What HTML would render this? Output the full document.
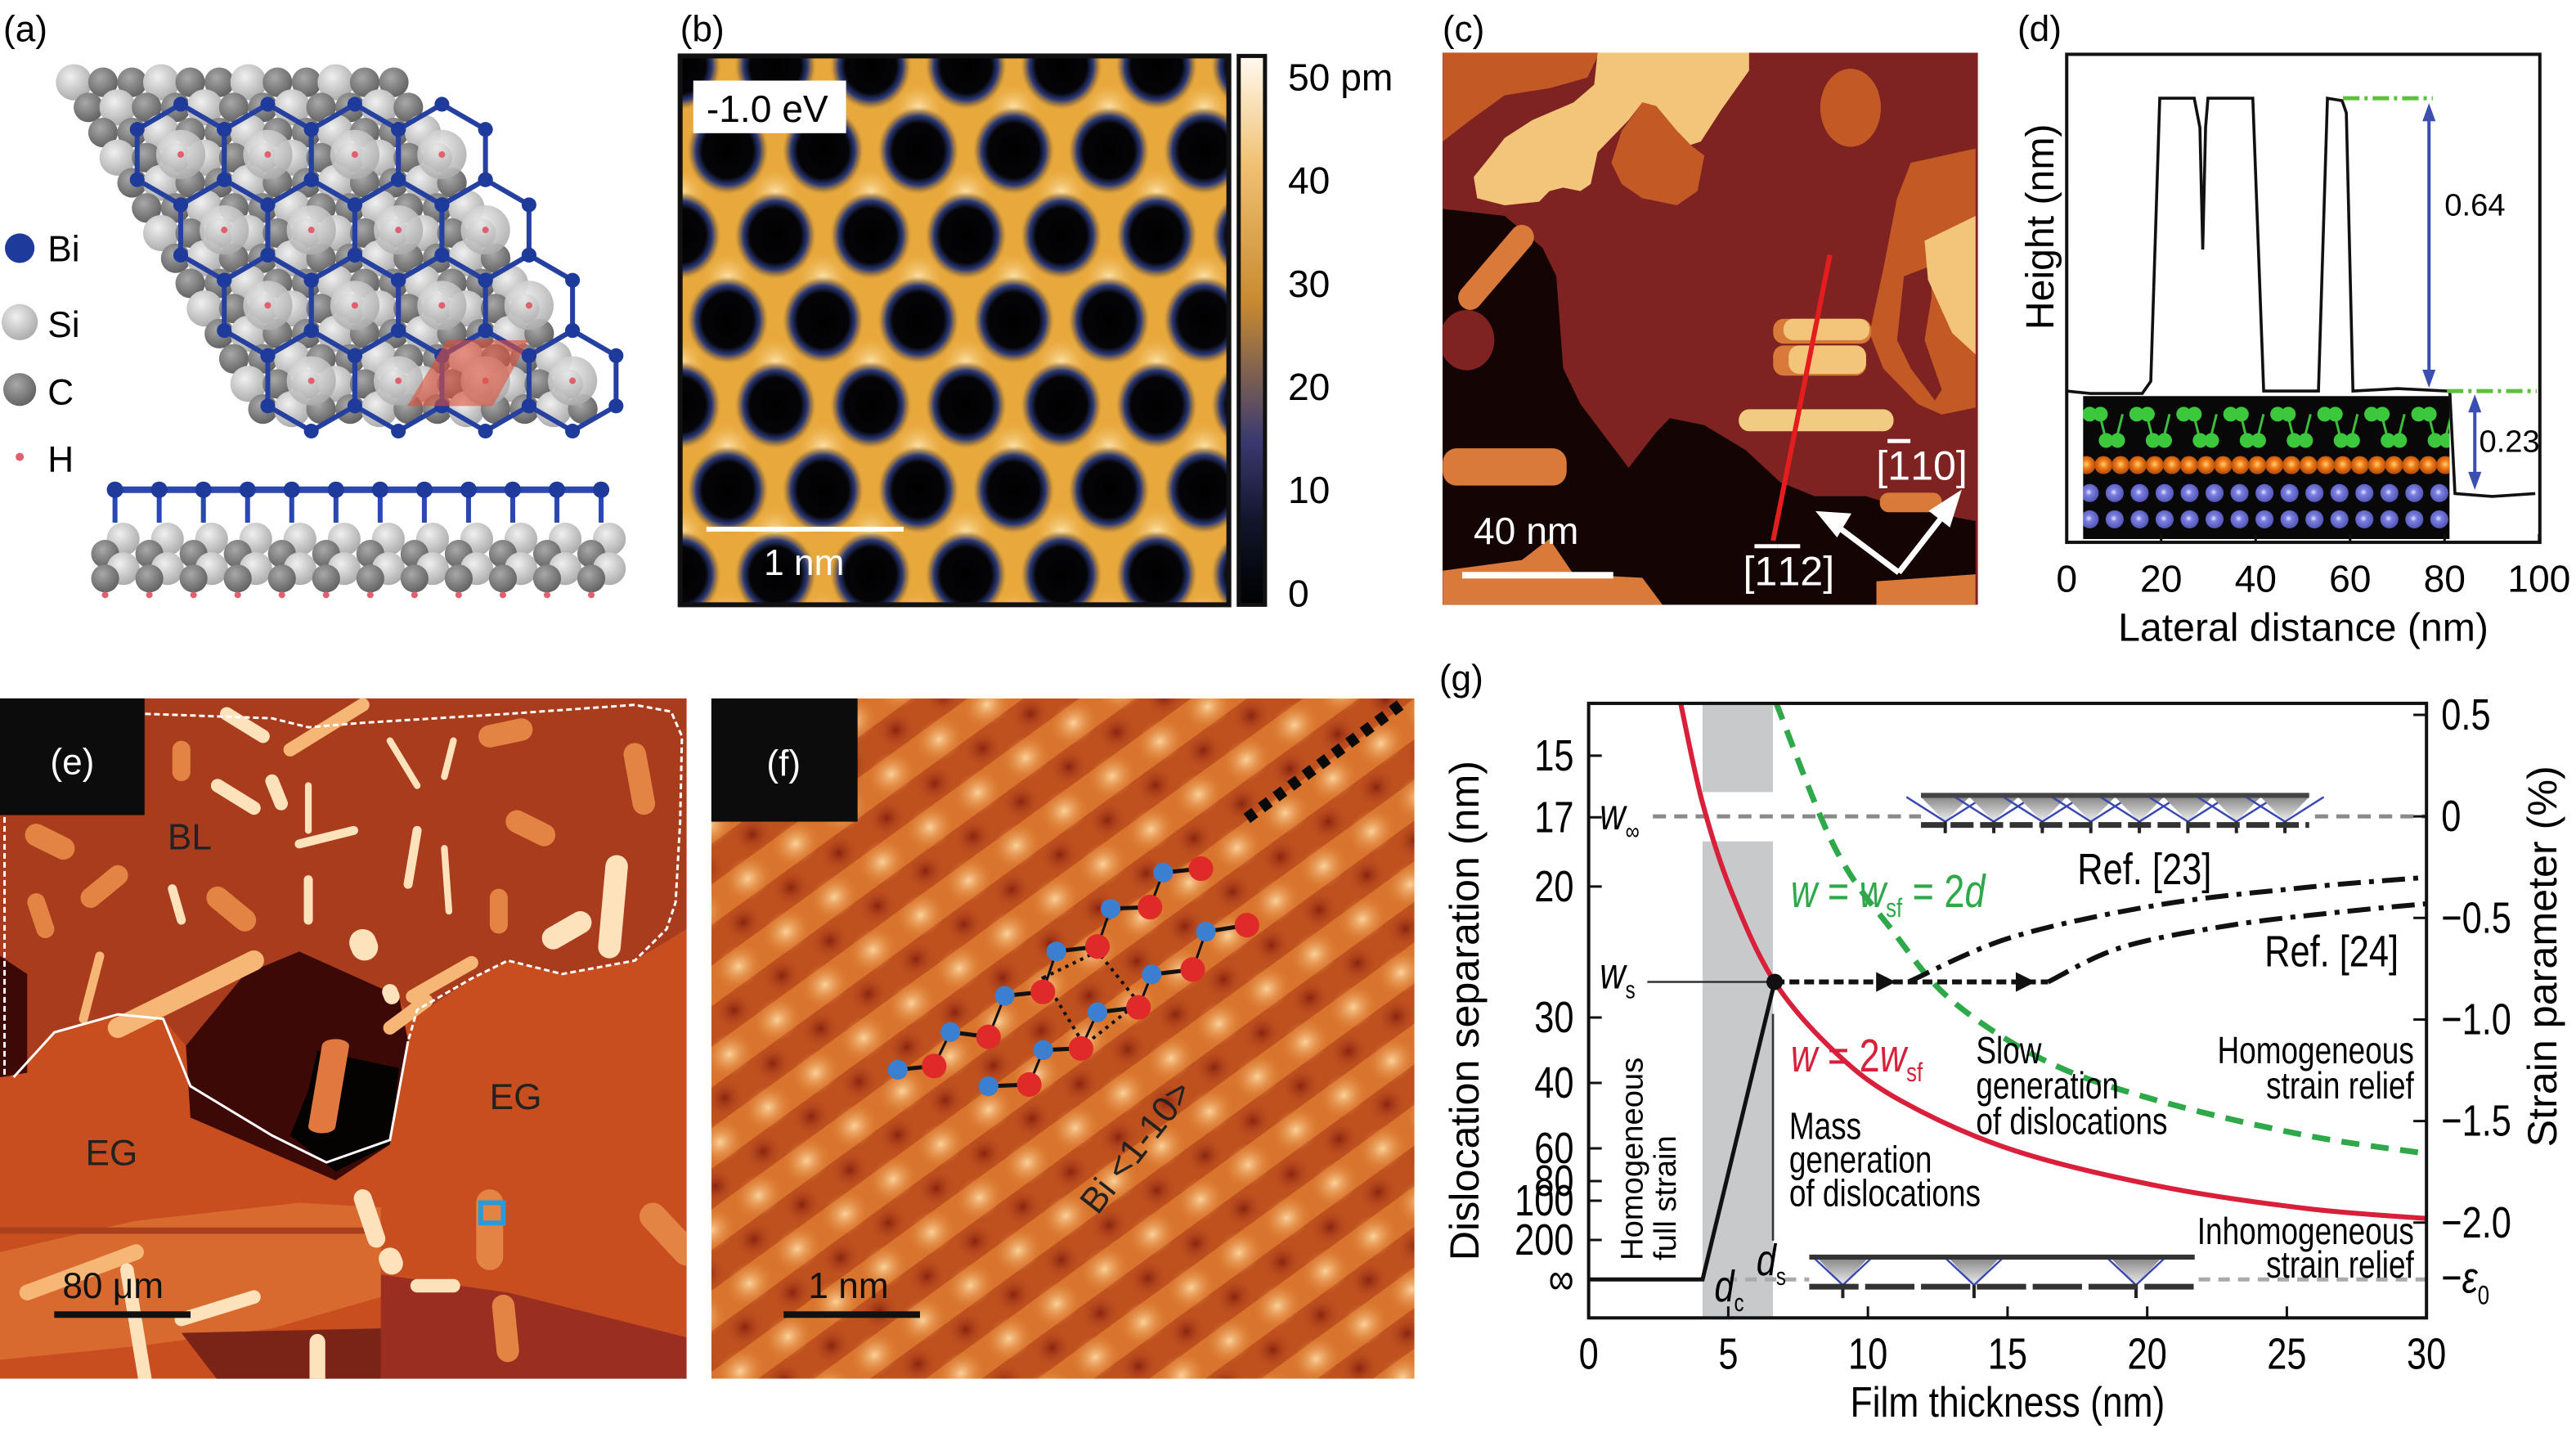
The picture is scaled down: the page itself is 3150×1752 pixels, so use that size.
<!DOCTYPE html>
<html><head><meta charset="utf-8"><style>
html,body{margin:0;padding:0;background:#fff;}
svg{display:block;}
text{font-family:"Liberation Sans",sans-serif;}
</style></head><body>
<svg id="fig" width="3150" height="1752" viewBox="0 0 1568 872" xmlns="http://www.w3.org/2000/svg">
<defs>
<radialGradient id="gC" cx="0.4" cy="0.35" r="0.7"><stop offset="0" stop-color="#a8a8a8"/><stop offset="1" stop-color="#5e5e5e"/></radialGradient>
<radialGradient id="gSi" cx="0.4" cy="0.35" r="0.7"><stop offset="0" stop-color="#f0f0f0"/><stop offset="1" stop-color="#a8a8a8"/></radialGradient>
<radialGradient id="gHole" cx="0.5" cy="0.5" r="0.5"><stop offset="0" stop-color="#000"/><stop offset="0.62" stop-color="#050508"/><stop offset="0.78" stop-color="#2c3a78"/><stop offset="0.9" stop-color="#8a6a40" stop-opacity="0.6"/><stop offset="1" stop-color="#e0a040" stop-opacity="0"/></radialGradient>
<radialGradient id="gBright" cx="0.5" cy="0.5" r="0.5"><stop offset="0" stop-color="#fde6b0"/><stop offset="1" stop-color="#f0b048" stop-opacity="0"/></radialGradient>
<linearGradient id="cbar" x1="0" y1="0" x2="0" y2="1"><stop offset="0" stop-color="#fffaf0"/><stop offset="0.2" stop-color="#f0c070"/><stop offset="0.45" stop-color="#c88a30"/><stop offset="0.7" stop-color="#3a3a70"/><stop offset="0.85" stop-color="#10152a"/><stop offset="1" stop-color="#000"/></linearGradient>
<linearGradient id="gTri" x1="0" y1="0" x2="0" y2="1"><stop offset="0" stop-color="#888"/><stop offset="1" stop-color="#eee"/></linearGradient>
<radialGradient id="gBlue" cx="0.45" cy="0.45" r="0.6"><stop offset="0" stop-color="#e8e8ff"/><stop offset="0.3" stop-color="#7b7fe0"/><stop offset="1" stop-color="#4c50b0"/></radialGradient>
<radialGradient id="gOr" cx="0.5" cy="0.45" r="0.6"><stop offset="0" stop-color="#ffd070"/><stop offset="0.4" stop-color="#f07a18"/><stop offset="1" stop-color="#a04008"/></radialGradient>
<radialGradient id="fSpot" cx="0.5" cy="0.5" r="0.5"><stop offset="0" stop-color="#fbd29a"/><stop offset="1" stop-color="#e68a3a" stop-opacity="0"/></radialGradient>
<radialGradient id="fDark" cx="0.5" cy="0.5" r="0.5"><stop offset="0" stop-color="#8a2410"/><stop offset="1" stop-color="#b84a1e" stop-opacity="0"/></radialGradient>
<pattern id="fPat" width="40" height="36" patternUnits="userSpaceOnUse" patternTransform="rotate(54)">
<rect width="40" height="36" fill="#d8742e"/>
<rect x="0" y="0" width="10" height="36" fill="#b9481c" opacity="0.8"/>
<rect x="30" y="0" width="10" height="36" fill="#b9481c" opacity="0.8"/>
<ellipse cx="20" cy="18" rx="13" ry="15" fill="url(#fSpot)"/>
<ellipse cx="0" cy="0" rx="11" ry="12" fill="url(#fDark)"/>
<ellipse cx="40" cy="0" rx="11" ry="12" fill="url(#fDark)"/>
<ellipse cx="0" cy="36" rx="11" ry="12" fill="url(#fDark)"/>
<ellipse cx="40" cy="36" rx="11" ry="12" fill="url(#fDark)"/>
</pattern>
<clipPath id="clipB"><rect x="414" y="34" width="334" height="334"/></clipPath>
<clipPath id="clipC"><rect x="878" y="32" width="326" height="336"/></clipPath>
<clipPath id="clipE"><rect x="0" y="425" width="418" height="414"/></clipPath>
<clipPath id="clipF"><rect x="433" y="425" width="428" height="414"/></clipPath>
<clipPath id="clipD"><rect x="1268" y="241" width="223" height="87"/></clipPath>
<clipPath id="clipG"><rect x="967" y="428" width="510" height="374"/></clipPath>
</defs>

<!-- ============ (a) ============ -->
<text x="2" y="25" font-size="22">(a)</text>
<g id="aTop"></g>
<g id="aSide"></g>
<g>
<circle cx="12" cy="151" r="9" fill="#1e3a9a"/>
<text x="29" y="159" font-size="22">Bi</text>
<circle cx="12" cy="196" r="11" fill="url(#gSi)"/>
<text x="29" y="205" font-size="22">Si</text>
<circle cx="12" cy="237" r="10" fill="url(#gC)"/>
<text x="29" y="246" font-size="22">C</text>
<circle cx="12" cy="278" r="2.5" fill="#e06070"/>
<text x="29" y="287" font-size="22">H</text>
</g>

<!-- ============ (b) ============ -->
<text x="414" y="25" font-size="22">(b)</text>
<g clip-path="url(#clipB)">
<rect x="414" y="34" width="334" height="334" fill="#e7a83c"/>
<g id="bSpots"></g>
<g id="bHoles"></g>
</g>
<rect x="414" y="34" width="334" height="334" fill="none" stroke="#111" stroke-width="3"/>
<rect x="422" y="49" width="93" height="32" fill="#fff"/>
<text x="430" y="74" font-size="23">-1.0 eV</text>
<line x1="430" y1="322" x2="550" y2="322" stroke="#fff" stroke-width="3"/>
<text x="465" y="350" font-size="22" fill="#fff">1 nm</text>
<rect x="754" y="34" width="16" height="334" fill="url(#cbar)" stroke="#111" stroke-width="2.5"/>
<g id="cbTicks"></g>

<!-- ============ (c) ============ -->
<text x="878" y="25" font-size="22">(c)</text>
<g clip-path="url(#clipC)">
<rect x="878" y="32" width="326" height="336" fill="#7e2321"/>
<g transform="translate(874,29.9) scale(0.2095,0.2159)">
<polygon points="20,0 480,0 440,80 330,110 200,130 100,200 20,260" fill="#c35a26"/>
<polygon points="470,10 910,10 910,60 830,170 770,260 740,270 700,230 640,160 600,150 560,200 470,290 450,380 420,400 370,390 330,400 300,430 200,440 120,420 110,360 160,300 200,250 280,200 400,150 460,100" fill="#f2c57a"/>
<polygon points="600,150 640,160 700,230 740,270 780,300 760,400 700,440 600,420 540,380 510,320 540,230" fill="#c35a26"/>
<ellipse cx="1205" cy="165" rx="88" ry="110" fill="#c35a26"/>
<polygon points="1380,320 1568,280 1568,1010 1470,1030 1400,1000 1300,900 1260,800 1300,620 1340,420" fill="#c35a26"/>
<polygon points="1360,640 1440,610 1440,700 1420,820 1470,960 1450,990 1380,900 1340,820" fill="#7e2321"/>
<polygon points="1420,540 1568,470 1568,860 1500,800 1430,650" fill="#f2c57a"/>
<polygon points="20,450 200,470 310,560 350,640 370,900 420,1000 560,1180 640,1080 680,1040 780,1060 900,1130 1000,1220 1100,1260 1250,1260 1350,1290 1568,1330 1568,1568 20,1568" fill="#150404"/>
<ellipse cx="90" cy="820" rx="80" ry="85" fill="#7e2321"/>
<line x1="100" y1="700" x2="250" y2="530" stroke="#d97a3a" stroke-width="70" stroke-linecap="round"/>
<rect x="20" y="1125" width="360" height="105" rx="40" fill="#d97a3a"/>
<polygon points="20,1470 250,1440 330,1380 400,1480 600,1490 660,1568 20,1568" fill="#d97a3a"/>
<polygon points="1280,1500 1568,1480 1568,1568 1280,1568" fill="#d97a3a"/>
<rect x="980" y="760" width="285" height="70" rx="30" fill="#d97a3a"/>
<rect x="1010" y="760" width="250" height="60" rx="28" fill="#f2c57a"/>
<rect x="980" y="835" width="270" height="85" rx="30" fill="#d97a3a"/>
<rect x="1025" y="835" width="225" height="80" rx="30" fill="#f2c57a"/>
<rect x="880" y="1015" width="450" height="62" rx="30" fill="#f2cb82"/>
<rect x="1290" y="1250" width="180" height="55" rx="25" fill="#d97a3a"/>
</g>
<line x1="1113.9" y1="155" x2="1079.3" y2="329" stroke="#e41e1e" stroke-width="3"/>
<g stroke="#fff" stroke-width="3.5" fill="#fff">
<line x1="1155.8" y1="348.4" x2="1188" y2="307"/>
<line x1="1155.8" y1="348.4" x2="1114" y2="317"/>
<polygon points="1191,302 1186,318 1177,311"/>
<polygon points="1109,313 1124,314 1118,324"/>
</g>
</g>
<text x="1142" y="292" font-size="25" fill="#fff">[<tspan text-decoration="overline">1</tspan>10]</text>
<text x="1061" y="356" font-size="25" fill="#fff">[<tspan text-decoration="overline">1</tspan><tspan text-decoration="overline">1</tspan>2]</text>
<text x="897" y="331" font-size="23" fill="#fff">40 nm</text>
<line x1="890" y1="350" x2="982" y2="350" stroke="#fff" stroke-width="4"/>

<!-- ============ (d) ============ -->
<text x="1228" y="25" font-size="22">(d)</text>
<g>
<rect x="1268" y="241" width="223" height="87" fill="#080808"/>
<g id="dInset" clip-path="url(#clipD)"></g>
</g>
<g id="dPlot"></g>
<rect x="1258" y="33" width="288" height="297" fill="none" stroke="#111" stroke-width="2"/>
<text transform="translate(1250,138) rotate(-90)" text-anchor="middle" font-size="24">Height (nm)</text>
<text x="1402" y="390" text-anchor="middle" font-size="24">Lateral distance (nm)</text>

<!-- ============ (e) ============ -->
<g clip-path="url(#clipE)">
<rect x="0" y="425" width="418" height="414" fill="#c84d1f"/>
<g transform="translate(0,418) scale(0.552,0.273)">
<polygon points="0,20 757,20 757,540 700,610 620,640 560,610 520,650 455,740 440,700 330,590 270,640 205,800 180,740 130,730 60,770 10,870 0,870" fill="#a83c1c"/>
<polygon points="0,1260 150,1190 330,1150 420,1160 420,1360 300,1430 150,1470 0,1500" fill="#d86a30"/>
<polygon points="420,1310 560,1350 757,1450 757,1545 420,1545" fill="#9a2e20"/>
<polygon points="200,1440 420,1430 420,1545 240,1545" fill="#7a2418"/>
<rect x="0" y="1205" width="420" height="14" fill="#a8401e"/>
<polygon points="330,590 440,690 450,790 430,1020 370,1100 210,960 205,800 270,640" fill="#3c0906"/>
<polygon points="350,810 440,850 430,1020 370,1080 320,1000 340,900" fill="#050202"/>
<line x1="370" y1="800" x2="355" y2="980" stroke="#e07840" stroke-width="30" stroke-linecap="round"/>
<polygon points="0,600 30,640 30,860 0,870" fill="#3c0906"/>
<g id="eRods"></g>
<rect x="530" y="1150" width="25" height="45" fill="none" stroke="#2a9ad8" stroke-width="6" vector-effect="non-scaling-stroke"/>
<path d="M160,60 L300,70 L340,90 L400,80 L480,70 L560,60 L700,40 L740,55 L752,110 L750,300 L745,480 L735,540 L700,610 L620,640 L560,610 L520,650 L460,720 L450,790 M5,290 L5,870" fill="none" stroke="#fff" stroke-width="3" stroke-dasharray="7 4" vector-effect="non-scaling-stroke"/>
<path d="M450,790 L430,1010 L360,1060 L300,1000 L210,890 L180,740 L130,730 L60,770 L15,870" fill="none" stroke="#fff" stroke-width="3" vector-effect="non-scaling-stroke"/>
</g>
</g>
<rect x="0" y="425" width="88" height="71" fill="#0c0c0c"/>
<text x="44" y="471" text-anchor="middle" font-size="22" fill="#fff">(e)</text>
<text x="102" y="517" font-size="22" fill="#222">BL</text>
<text x="298" y="675" font-size="22" fill="#222">EG</text>
<text x="52" y="709" font-size="22" fill="#222">EG</text>
<text x="38" y="790" font-size="22" fill="#111">80 μm</text>
<line x1="33" y1="800" x2="116" y2="800" stroke="#111" stroke-width="4"/>

<!-- ============ (f) ============ -->
<g clip-path="url(#clipF)">
<rect x="433" y="425" width="428" height="414" fill="url(#fPat)"/>
</g>
<rect x="433" y="425" width="89" height="75" fill="#0c0c0c"/>
<text x="477" y="472" text-anchor="middle" font-size="22" fill="#fff">(f)</text>
<line x1="759" y1="498" x2="855" y2="427" stroke="#0a0a0a" stroke-width="7" stroke-dasharray="6 5"/>
<polygon points="635,595 668,579 693,610 660,636" fill="none" stroke="#111" stroke-width="2" stroke-dasharray="2 3"/>
<g id="fMol"></g>
<text transform="translate(668,740) rotate(-52)" font-size="22" fill="#222">Bi &lt;1-10&gt;</text>
<text x="492" y="790" font-size="22" fill="#111">1 nm</text>
<line x1="477" y1="800" x2="560" y2="800" stroke="#111" stroke-width="4"/>

<!-- ============ (g) ============ -->
<text x="876" y="420" font-size="22">(g)</text>
<g id="gPlot"></g>
<rect x="967" y="428" width="510" height="374" fill="none" stroke="#111" stroke-width="2"/>
<text transform="translate(900,615) rotate(-90)" text-anchor="middle" font-size="25">Dislocation separation (nm)</text>
<text transform="translate(1556,582) rotate(-90)" text-anchor="middle" font-size="25">Strain parameter (%)</text>
<text transform="translate(1222,862) scale(0.85,1)" text-anchor="middle" font-size="26">Film thickness (nm)</text>
</svg>

<script>
// ---------- (d) data ----------
const dDist = [0,5,16,17.8,19.7,27,28.2,28.8,29.4,29.9,39.4,41.7,53.3,55.2,58.3,59.2,60.6,70,80.5,81.1,82.2,90,99.2];
const dHeight = [0.31,0.305,0.305,0.33,0.91,0.91,0.85,0.6,0.85,0.91,0.91,0.31,0.31,0.91,0.905,0.88,0.31,0.315,0.31,0.31,0.1,0.094,0.1];
const dTicks = [0,20,40,60,80,100];
const dStepTop = 0.91, dStepMid = 0.31, dStepLow = 0.094;
const dStepLabels = ["0.64","0.23"];

// ---------- (g) data ----------
const gXTicks = [0,5,10,15,20,25,30];
const gLeftTicks = [15,17,20,30,40,60,80,100,200];
const gRightTicks = [0.5,0,-0.5,-1.0,-1.5,-2.0];
const gRightLabels = ["0.5","0","\u22120.5","\u22121.0","\u22121.5","\u22122.0"];
const gRedT = [3.29,4.08,5.13,6.66,8.82,11.18,15.13,20.4,25.66,30];
const gRedS = [0.56,0.065,-0.376,-0.815,-1.16,-1.40,-1.64,-1.82,-1.93,-1.98];
const gGreenT = [6.71,8.82,10.92,13.03,16.45,20.4,25.66,30];
const gGreenS = [0.56,-0.155,-0.57,-0.91,-1.21,-1.40,-1.57,-1.66];
const gRef23T = [11.45,15.13,20.4,25.66,30];
const gRef23S = [-0.815,-0.596,-0.436,-0.35,-0.30];
const gRef24T = [16.45,19.08,23.03,26.97,30];
const gRef24S = [-0.815,-0.645,-0.535,-0.47,-0.43];
const gBlackT = [0,4.08,6.66];
const gBlackS = [-2.28,-2.28,-0.815];
const gEps0 = -2.28;
const gDc = 4.08, gDs = 6.6;

const NS = "http://www.w3.org/2000/svg";
function mk(tag, attrs, parent){const e=document.createElementNS(NS,tag);for(const k in attrs)e.setAttribute(k,attrs[k]);if(parent)parent.appendChild(e);return e;}
function smooth(pts){let d="M"+pts[0][0]+","+pts[0][1];for(let i=0;i<pts.length-1;i++){const p0=pts[i-1]||pts[i],p1=pts[i],p2=pts[i+1],p3=pts[i+2]||p2;const c1=[p1[0]+(p2[0]-p0[0])/6,p1[1]+(p2[1]-p0[1])/6],c2=[p2[0]-(p3[0]-p1[0])/6,p2[1]-(p3[1]-p1[1])/6];d+=" C"+c1+" "+c2+" "+p2;}return d;}

// ---------- (a) ----------
(function(){
  const g=document.getElementById('aTop');
  const u=[17.7,0], v=[8.85,15.3];
  for(let j=0;j<14;j++)for(let i=0;i<12;i++){
    const x=45+i*u[0]+j*v[0], y=50+j*v[1];
    const light=((i+2*j)%3===0);
    const c=mk('circle',{cx:x,cy:y,r:light?11:9,fill:light?'url(#gSi)':'url(#gC)'},g);
    
    
  }
  const R=30.6;
  for(let r=0;r<4;r++)for(let c=0;c<4;c++){
    const cx=110+c*53+r*26.5, cy=94+r*45.9;
    mk('circle',{cx:cx,cy:cy,r:15,fill:'url(#gSi)',opacity:0.9},g);
    mk('circle',{cx:cx,cy:cy,r:2,fill:'#e06070'},g);
    let pts=[];for(let k=0;k<6;k++){const a=(-90+60*k)*Math.PI/180;pts.push([cx+R*Math.cos(a),cy+R*Math.sin(a)]);}
    const h=mk('polygon',{points:pts.map(p=>p.join(',')).join(' '),fill:'none',stroke:'#2640a0','stroke-width':3},g);
    
    
    pts.forEach(p=>mk('circle',{cx:p[0],cy:p[1],r:4.5,fill:'#1e3a9a'},g));
  }
  const rh=mk('polygon',{points:'272,207 322,207 300,247 248,247',fill:'#e0503a',opacity:0.6},g);
  
  
  const s=document.getElementById('aSide');
  for(let k=0;k<12;k++){
    const x=70+k*26.9;
    mk('circle',{cx:x+5,cy:328,r:10,fill:'url(#gSi)'},s);
    mk('circle',{cx:x-6,cy:337,r:8.5,fill:'url(#gC)'},s);
    mk('circle',{cx:x+5,cy:346,r:10,fill:'url(#gSi)'},s);
    mk('circle',{cx:x-6,cy:352,r:8.5,fill:'url(#gC)'},s);
    mk('circle',{cx:x-6,cy:362,r:2,fill:'#e06070'},s);
    mk('line',{x1:x,y1:298,x2:x,y2:318,stroke:'#2a48b0','stroke-width':3},s);
  }
  mk('line',{x1:70,y1:298,x2:366,y2:298,stroke:'#2a48b0','stroke-width':4},s);
  for(let k=0;k<12;k++) mk('circle',{cx:70+k*26.9,cy:298,r:5,fill:'#1e3a9a'},s);
})();

// ---------- (b) ----------
(function(){
  const holes=document.getElementById('bHoles'), spots=document.getElementById('bSpots');
  for(let r=-1;r<8;r++){
    const y=40+r*51.6, off=(r%2===0)?0:29;
    for(let c=-1;c<7;c++){
      const x=443+off+c*58-29;
      mk('circle',{cx:x+29,cy:y+26,r:16,fill:'url(#gBright)'},spots);
      const h=mk('ellipse',{cx:x,cy:y,rx:25,ry:27,fill:'url(#gHole)'},holes);
      
      
    }
  }
  const t=document.getElementById('cbTicks');
  const labs=["50 pm","40","30","20","10","0"];
  labs.forEach((l,i)=>{const y=46+i*62.8;const e=mk('text',{x:784,y:y+9,'font-size':23},t);e.textContent=l;
    
    });
})();

// ---------- (d) ----------
(function(){
  const g=document.getElementById('dPlot');
  const X=v=>1258+v*2.875, Y=h=>330-h*297;
  const ins=document.getElementById('dInset');
  for(let k=0;k<8;k++){
    const x0=1272+k*28.6;
    [[0,252],[6,252],[-2,268],[10,268]].forEach(()=>{});
    mk('line',{x1:x0+6,y1:252,x2:x0+10,y2:268,stroke:'#3cbf3c','stroke-width':1.5},ins);
    mk('line',{x1:x0+20,y1:252,x2:x0+16,y2:268,stroke:'#3cbf3c','stroke-width':1.5},ins);
    [[x0,252],[x0+6,252],[x0+10,268],[x0+16,268],[x0+20,252],[x0+26,252]].forEach(p=>0);
    mk('circle',{cx:x0,cy:252,r:4.5,fill:'#3cc83c'},ins);
    mk('circle',{cx:x0+6.5,cy:252,r:4.5,fill:'#3cc83c'},ins);
    mk('circle',{cx:x0+10,cy:268,r:4.5,fill:'#3cc83c'},ins);
    mk('circle',{cx:x0+17,cy:268,r:4.5,fill:'#3cc83c'},ins);
  }
  for(let k=0;k<22;k++) mk('circle',{cx:1270+k*10.4,cy:283,r:5.5,fill:'url(#gOr)'},ins);
  for(let k=0;k<15;k++){mk('circle',{cx:1272+k*15.2,cy:300,r:5.5,fill:'url(#gBlue)'},ins);mk('circle',{cx:1272+k*15.2,cy:316,r:5.5,fill:'url(#gBlue)'},ins);}
  dTicks.forEach(v=>{
    mk('line',{x1:X(v),y1:330,x2:X(v),y2:325,stroke:'#111','stroke-width':1.5},g);
    const t=mk('text',{x:X(v),y:360,'text-anchor':'middle','font-size':23},g);t.textContent=v;
    
    
  });
  const p=mk('polyline',{points:dDist.map((v,i)=>X(v)+','+Y(dHeight[i])).join(' '),fill:'none',stroke:'#111','stroke-width':1.8},g);
  
  
  mk('line',{x1:X(58.5),y1:Y(dStepTop),x2:X(77.5),y2:Y(dStepTop),stroke:'#5cc03c','stroke-width':2.5,'stroke-dasharray':'10 3 2 3'},g);
  mk('line',{x1:X(80.5),y1:Y(dStepMid),x2:X(99.5),y2:Y(dStepMid),stroke:'#5cc03c','stroke-width':2.5,'stroke-dasharray':'10 3 2 3'},g);
  function arrow(x,y1,y2,name){
    const a=mk('g',{},g);
    mk('line',{x1:x,y1:y1+6,x2:x,y2:y2-6,stroke:'#3a4fb0','stroke-width':2},a);
    mk('polygon',{points:`${x},${y1} ${x-4},${y1+11} ${x+4},${y1+11}`,fill:'#3a4fb0'},a);
    mk('polygon',{points:`${x},${y2} ${x-4},${y2-11} ${x+4},${y2-11}`,fill:'#3a4fb0'},a);
  }
  arrow(X(76.7),Y(dStepTop)+3,Y(dStepMid)-2,'step-arrow-064');
  arrow(X(86.4),Y(dStepMid)+2,Y(dStepLow)-4,'step-arrow-023');
  let t=mk('text',{x:1488,y:131,'font-size':19},g);t.textContent=dStepLabels[0];
  
  
  t=mk('text',{x:1509,y:275,'font-size':19},g);t.textContent=dStepLabels[1];
  
  
})();

// ---------- (e) rods ----------
(function(){
  const g=document.getElementById('eRods');
  const L='#f6b676', W='#fde2bc', O='#e48444';
  const rods=[[250,60,290,110,30,W],[320,140,400,40,30,L],[430,120,460,220,15,W],[500,120,490,200,15,W],[540,110,575,95,50,O],[700,150,710,260,50,O],[200,140,200,190,40,O],[240,220,280,270,30,W],[300,210,310,260,30,W],[340,220,340,320,15,W],[330,350,390,320,20,W],[570,300,600,330,50,O],[40,330,70,360,50,O],[130,420,100,470,45,O],[190,450,200,520,20,W],[240,470,270,520,50,O],[460,320,450,440,20,W],[490,360,495,500,15,W],[340,430,340,520,20,W],[550,470,550,530,40,O],[610,560,640,525,50,W],[680,400,672,580,50,W],[400,570,402,580,60,W],[280,610,130,760,45,L],[110,600,92,740,20,L],[40,480,50,540,40,O],[470,700,430,760,30,L],[520,615,455,690,30,L],[430,680,432,690,35,W],[400,1140,415,1230,40,W],[430,1275,432,1285,50,W],[540,1150,540,1270,60,O],[720,1180,757,1260,60,O],[30,1350,150,1260,35,L],[140,1300,160,1545,30,W],[200,1410,280,1360,30,W],[350,1460,350,1545,35,W],[460,1335,500,1335,30,W],[555,1380,560,1480,50,O]];
  rods.forEach(r=>{const e=mk('line',{x1:r[0],y1:r[1],x2:r[2],y2:r[3],stroke:r[5],'stroke-width':r[4]*0.55,'stroke-linecap':'round','vector-effect':'non-scaling-stroke'},g);
    
    });
})();

// ---------- (f) molecule ----------
(function(){
  const g=document.getElementById('fMol');
  const chains=[[[546.5,651,568.6,648.7],[578.5,628,601.7,631],[611.6,606,634.8,603.6],[643,579,668,576],[676,553,700,552],[708,531,731,528.6]],
                [[601.7,661,626.5,660],[635,639,658,638],[668,616,693,613],[701,593,726,590],[734,567,759,563]]];
  chains.forEach(ch=>{
    ch.forEach((p,i)=>{
      mk('line',{x1:p[0],y1:p[1],x2:p[2],y2:p[3],stroke:'#111','stroke-width':2.5},g);
      if(i<ch.length-1) mk('line',{x1:p[2],y1:p[3],x2:ch[i+1][0],y2:ch[i+1][1],stroke:'#111','stroke-width':1.5},g);
    });
    ch.forEach(p=>{
      const b=mk('circle',{cx:p[0],cy:p[1],r:6,fill:'#3a7fd0'},g);
      
      
      const r=mk('circle',{cx:p[2],cy:p[3],r:7.5,fill:'#e02a2a'},g);
      
      
    });
  });
})();

// ---------- (g) ----------
(function(){
  const g=document.getElementById('gPlot');
  const X=t=>967+t*17.0;
  const YS=s=>496.8-s*123.6;
  const YW=w=>778.5-4780/w;
  const SX=0.8;
  const cl=mk('g',{'clip-path':'url(#clipG)'},g);
  mk('rect',{x:X(gDc),y:428,width:X(gDs)-X(gDc),height:54,fill:'#c8c9cb'},cl);
  mk('rect',{x:X(gDc),y:512,width:X(gDs)-X(gDc),height:290,fill:'#c8c9cb'},cl);
  mk('line',{x1:X(2.3),y1:YS(0),x2:X(30),y2:YS(0),stroke:'#8a8a8a','stroke-width':2.5,'stroke-dasharray':'8 5'},cl);
  mk('line',{x1:X(4.9),y1:YS(gEps0),x2:X(30),y2:YS(gEps0),stroke:'#aaa','stroke-width':2.5,'stroke-dasharray':'7 5'},cl);
  const sc=mk('g',{},cl);
  const x0=X(11.9),x1=X(25.8);
  mk('rect',{x:x0,y:484,width:x1-x0,height:16,fill:'#fff'},sc);
  const n=8,wd=(x1-x0)/n;
  for(let k=0;k<n;k++){const cx=x0+wd*(k+0.5);
    mk('polygon',{points:`${cx-wd/2},485 ${cx+wd/2},485 ${cx},500`,fill:'url(#gTri)'},sc);
    mk('polyline',{points:`${cx-wd*0.8},485 ${cx},500 ${cx+wd*0.8},485`,fill:'none',stroke:'#3848b0','stroke-width':1.2},sc);
    mk('line',{x1:cx,y1:500,x2:cx,y2:507,stroke:'#222','stroke-width':2},sc);}
  mk('line',{x1:x0,y1:484,x2:x1,y2:484,stroke:'#444','stroke-width':3},sc);
  mk('line',{x1:x0,y1:502,x2:x1,y2:502,stroke:'#333','stroke-width':3.5,'stroke-dasharray':'14 4'},sc);
  const sb=mk('g',{},cl);
  const b0=X(7.9),b1=X(21.7);
  mk('rect',{x:b0,y:766,width:b1-b0,height:16,fill:'#fff'},sb);
  [9.1,13.8,19.6].forEach(t=>{const cx=X(t);
    mk('polygon',{points:`${cx-15},766 ${cx+15},766 ${cx},782`,fill:'url(#gTri)'},sb);
    mk('polyline',{points:`${cx-17},766 ${cx},782 ${cx+17},766`,fill:'none',stroke:'#3848b0','stroke-width':1.2},sb);
    mk('line',{x1:cx,y1:782,x2:cx,y2:790,stroke:'#222','stroke-width':2},sb);});
  mk('line',{x1:b0,y1:765,x2:b1,y2:765,stroke:'#333','stroke-width':3},sb);
  mk('line',{x1:b0,y1:783,x2:b1,y2:783,stroke:'#333','stroke-width':3.5,'stroke-dasharray':'30 4'},sb);
  let e=mk('path',{d:smooth(gGreenT.map((t,i)=>[X(t),YS(gGreenS[i])])),fill:'none',stroke:'#2fa84a','stroke-width':3.5,'stroke-dasharray':'11 7'},cl);
  
  
  e=mk('path',{d:smooth(gRedT.map((t,i)=>[X(t),YS(gRedS[i])])),fill:'none',stroke:'#d8203a','stroke-width':3},cl);
  
  
  e=mk('path',{d:smooth(gRef23T.map((t,i)=>[X(t),YS(gRef23S[i])])),fill:'none',stroke:'#111','stroke-width':3,'stroke-dasharray':'14 5 3 5'},cl);
  
  
  e=mk('path',{d:smooth(gRef24T.map((t,i)=>[X(t),YS(gRef24S[i])])),fill:'none',stroke:'#111','stroke-width':3,'stroke-dasharray':'14 5 3 5'},cl);
  
  
  e=mk('polyline',{points:gBlackT.map((t,i)=>X(t)+','+YS(gBlackS[i])).join(' '),fill:'none',stroke:'#111','stroke-width':2.5},cl);
  
  
  const ys=YS(gBlackS[2]);
  mk('line',{x1:X(gBlackT[2]),y1:ys,x2:X(gRef24T[0]),y2:ys,stroke:'#111','stroke-width':3,'stroke-dasharray':'6 3'},cl);
  [11.0,16.0].forEach(t=>mk('polygon',{points:`${X(t)},${ys} ${X(t)-12},${ys-6} ${X(t)-12},${ys+6}`,fill:'#111'},cl));
  mk('line',{x1:X(2.1),y1:ys,x2:X(gBlackT[2]),y2:ys,stroke:'#333','stroke-width':1.2},cl);
  e=mk('circle',{cx:X(gBlackT[2]),cy:ys,r:5,fill:'#111'},cl);
  
  
  mk('line',{x1:X(gDs),y1:617,x2:X(gDs),y2:755,stroke:'#333','stroke-width':1.3},cl);
  function ntext(x,y,attrs){return mk('text',Object.assign({transform:`translate(${x},${y}) scale(${SX},1)`,x:0,y:0},attrs),g);}
  gXTicks.forEach(t=>{mk('line',{x1:X(t),y1:802,x2:X(t),y2:795,stroke:'#111','stroke-width':1.5},g);
    const l=ntext(X(t),833,{'text-anchor':'middle','font-size':27});l.textContent=t;
    
    });
  gLeftTicks.forEach(w=>{const y=YW(w);mk('line',{x1:967,y1:y,x2:975,y2:y,stroke:'#111','stroke-width':1.5},g);
    const l=ntext(958,y+9,{'text-anchor':'end','font-size':27});l.textContent=w;
    
    });
  let inf=ntext(958,YW(1e9)+9,{'text-anchor':'end','font-size':27});inf.textContent='\u221E';
  
  
  gRightTicks.forEach((s,i)=>{const y=YS(s);mk('line',{x1:1469,y1:y,x2:1477,y2:y,stroke:'#111','stroke-width':1.5},g);
    const l=ntext(1486,y+9,{'font-size':27});l.textContent=gRightLabels[i];
    
    });
  let eps=ntext(1486,YS(gEps0)+8,{'font-size':27});
  eps.innerHTML='\u2212<tspan font-style="italic">\u03B5</tspan><tspan font-size="16" dy="7">0</tspan>';
  
  
  function txt(x,y,html,attrs,name){const t=ntext(x,y,Object.assign({'font-size':23},attrs||{}));t.innerHTML=html;
    
    return t;}
  txt(X(0.4),YS(0)+8,'<tspan font-style="italic">w</tspan><tspan font-size="15" dy="6">\u221E</tspan>',{'font-size':27},'w-infinity-label');
  txt(X(0.4),ys+4,'<tspan font-style="italic">w</tspan><tspan font-size="15" dy="6">s</tspan>',{'font-size':27},'ws-label');
  txt(X(7.24),552,'<tspan font-style="italic">w</tspan> = <tspan font-style="italic">w</tspan><tspan font-size="16" dy="6">sf</tspan><tspan dy="-6"> = 2</tspan><tspan font-style="italic">d</tspan>',{'font-size':28,fill:'#2fa84a'},'green-curve-label');
  txt(X(7.24),652,'<tspan font-style="italic">w</tspan> = 2<tspan font-style="italic">w</tspan><tspan font-size="16" dy="6">sf</tspan>',{'font-size':28,fill:'#d8203a'},'red-curve-label');
  txt(X(17.5),538,'Ref. [23]',{'font-size':27},'ref23-label');
  txt(X(24.2),588,'Ref. [24]',{'font-size':27},'ref24-label');
  ['Slow','generation','of dislocations'].forEach((s,i)=>txt(X(13.87),647+i*21.5,s,{},'slow-generation-label'));
  ['Homogeneous','strain relief'].forEach((s,i)=>txt(X(29.55),647+i*21.5,s,{'text-anchor':'end'},'homogeneous-relief-label'));
  ['Mass','generation','of dislocations'].forEach((s,i)=>txt(X(7.18),693+i*20.5,s,{},'mass-generation-label'));
  ['Inhomogeneous','strain relief'].forEach((s,i)=>txt(X(29.55),757+i*20.5,s,{'text-anchor':'end'},'inhomogeneous-relief-label'));
  const hv=mk('text',{transform:`translate(${X(1.58)+6},767) rotate(-90)`,'font-size':19},g);hv.textContent='Homogeneous';
  
  
  const hv2=mk('text',{transform:`translate(${X(2.76)+6},767) rotate(-90)`,'font-size':19},g);hv2.textContent='full strain';
  
  
  txt(X(6.3)-5,776,'<tspan font-style="italic">d</tspan><tspan font-size="15" dy="6">s</tspan>',{'font-size':27},'ds-label');
  txt(X(4.5),792,'<tspan font-style="italic">d</tspan><tspan font-size="15" dy="6">c</tspan>',{'font-size':27},'dc-label');
})();
</script>
</body></html>
